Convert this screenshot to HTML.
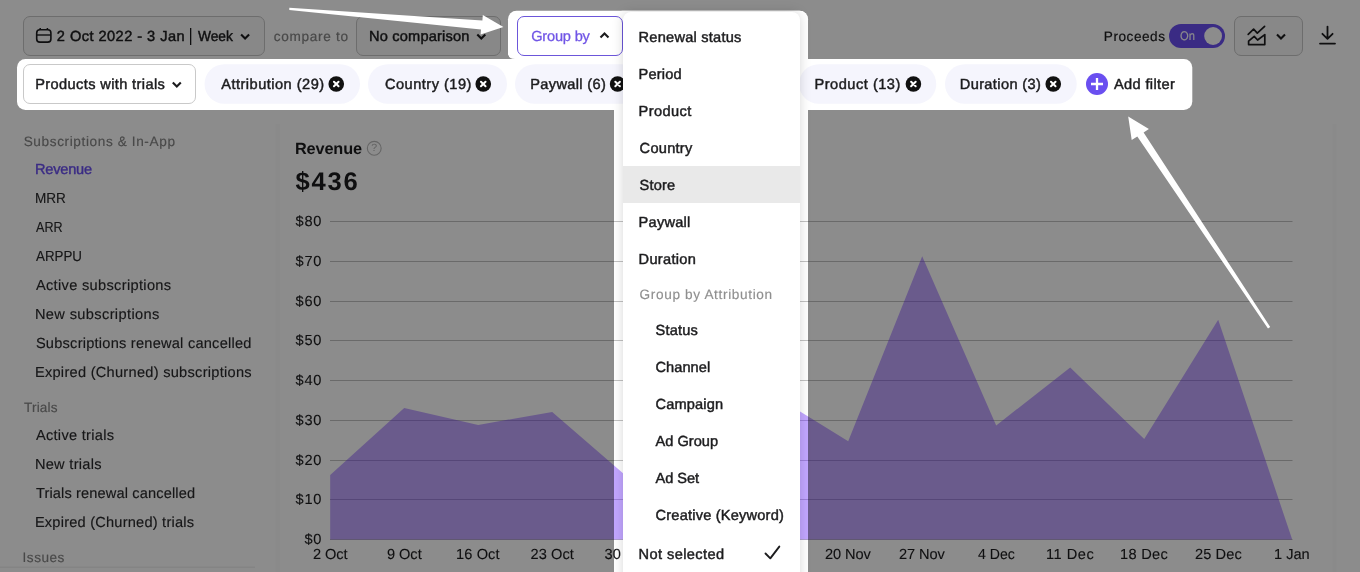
<!DOCTYPE html>
<html lang="en"><head><meta charset="utf-8"><title>Revenue chart – Group by</title>
<style>
html,body{margin:0;padding:0}
body{width:1360px;height:572px;overflow:hidden;position:relative;background:#fff;font-family:"Liberation Sans", sans-serif;text-rendering:geometricPrecision;}
.abs{position:absolute;left:0;top:0}
.layer{position:absolute;left:0;top:0;width:1360px;height:572px;overflow:hidden}
.t{position:absolute;white-space:pre;line-height:20px;transform-origin:0 50%}
.help{position:absolute;left:368px;top:141px;width:12.5px;text-align:center;font-size:10.5px;line-height:15px;color:#b0b0b0}
.dd{position:absolute;left:623px;top:12px;width:177px;height:600px;background:#fff;border-radius:8px;box-shadow:0 0 12px rgba(0,0,0,.16)}
.hl{position:absolute;left:623px;top:165.8px;width:177px;height:37px;background:#e9e9e9}
</style></head>
<body>
<div class="layer" id="page">
<svg class="abs" width="1360" height="572" viewBox="0 0 1360 572">
<!-- top buttons -->
<rect x="23.5" y="16.5" width="241" height="39" rx="6.5" fill="#f7f7f7" stroke="#c6c6c6"/>
<rect x="356.5" y="16.5" width="144" height="39" rx="6.5" fill="#f7f7f7" stroke="#c6c6c6"/>
<rect x="517.5" y="16.5" width="105" height="39" rx="6.5" fill="#fff" stroke="#6c56da"/>
<rect x="1234.5" y="16.5" width="68" height="39" rx="6.5" fill="#f7f7f7" stroke="#c6c6c6"/>
<!-- calendar icon -->
<g fill="none" stroke="#1c1c1e" stroke-width="1.6"><rect x="36.7" y="29.8" width="14.2" height="12.3" rx="3.2"/><path d="M37,35H50.6" stroke-width="1.4"/><path d="M40.2,27.9V29.6M47.4,27.9V29.6" stroke-width="1.5"/></g>
<rect x="190" y="28" width="1.3" height="17" fill="#1c1c1e"/>
<path transform="translate(245.1,36.5)" d="M-4,-2.1L0,1.9L4,-2.1" fill="none" stroke="#1c1c1e" stroke-width="2.1" stroke-linejoin="miter"/><path transform="translate(481.3,36.5)" d="M-4,-2.1L0,1.9L4,-2.1" fill="none" stroke="#1c1c1e" stroke-width="2.1" stroke-linejoin="miter"/><path transform="translate(604.5,35.4)" d="M-4,2.1L0,-1.9L4,2.1" fill="none" stroke="#1c1c1e" stroke-width="2.1" stroke-linejoin="miter"/><path transform="translate(1281,36.5)" d="M-4,-2.1L0,1.9L4,-2.1" fill="none" stroke="#1c1c1e" stroke-width="2.1" stroke-linejoin="miter"/>
<!-- toggle -->
<rect x="1169" y="24" width="56" height="24" rx="12" fill="#6a4ff0"/><circle cx="1213.1" cy="36" r="8.9" fill="#fff"/>
<!-- chart-type icon -->
<g fill="none" stroke="#1c1c1e" stroke-width="1.7" stroke-linejoin="round" stroke-linecap="round">
<path d="M1248.2,34.3L1253.6,29.2L1257.3,33.2L1264.6,26.4"/><path d="M1248.6,44.6V41.2L1254.2,36.4L1257.6,40L1264.8,34.6V44.6Z"/></g>
<!-- download icon -->
<g fill="none" stroke="#1c1c1e" stroke-width="1.8" stroke-linecap="round" stroke-linejoin="round"><path d="M1327.5,26.6V38.6M1322.4,33.8L1327.5,38.9L1332.6,33.8M1320,43.6H1335"/></g>
<!-- filter row -->
<rect x="23.5" y="64.5" width="172" height="39" rx="6.5" fill="#fff" stroke="#c9c9c9"/><path transform="translate(176.8,84.6)" d="M-4,-2.1L0,1.9L4,-2.1" fill="none" stroke="#1c1c1e" stroke-width="2.1" stroke-linejoin="miter"/>
<rect x="204.5" y="64.25" width="155.5" height="39.5" rx="19.75" fill="#f5f5fd"/><rect x="368" y="64.25" width="139" height="39.5" rx="19.75" fill="#f5f5fd"/><rect x="515" y="64.25" width="126.5" height="39.5" rx="19.75" fill="#f5f5fd"/><rect x="799" y="64.25" width="137.25" height="39.5" rx="19.75" fill="#f5f5fd"/><rect x="945" y="64.25" width="131.75" height="39.5" rx="19.75" fill="#f5f5fd"/>
<g transform="translate(336.25,84)"><circle r="7.8" fill="#111"/><path d="M-2.3,-2.3L2.3,2.3M2.3,-2.3L-2.3,2.3" stroke="#fff" stroke-width="2" stroke-linecap="round"/></g><g transform="translate(483.25,84)"><circle r="7.8" fill="#111"/><path d="M-2.3,-2.3L2.3,2.3M2.3,-2.3L-2.3,2.3" stroke="#fff" stroke-width="2" stroke-linecap="round"/></g><g transform="translate(617.6,84)"><circle r="7.8" fill="#111"/><path d="M-2.3,-2.3L2.3,2.3M2.3,-2.3L-2.3,2.3" stroke="#fff" stroke-width="2" stroke-linecap="round"/></g><g transform="translate(913.4,84)"><circle r="7.8" fill="#111"/><path d="M-2.3,-2.3L2.3,2.3M2.3,-2.3L-2.3,2.3" stroke="#fff" stroke-width="2" stroke-linecap="round"/></g><g transform="translate(1053.25,84)"><circle r="7.8" fill="#111"/><path d="M-2.3,-2.3L2.3,2.3M2.3,-2.3L-2.3,2.3" stroke="#fff" stroke-width="2" stroke-linecap="round"/></g>
<circle cx="1097" cy="84" r="11" fill="#6a4ff0"/><path d="M1091,84H1103M1097,78V90" stroke="#fff" stroke-width="2.3"/>
<!-- card -->
<rect x="275.5" y="124" width="4.5" height="470" fill="#fbfbfb"/><rect x="1332.5" y="124" width="4" height="470" fill="#fbfbfb"/>
<!-- help -->
<circle cx="374.25" cy="148.3" r="6.9" fill="none" stroke="#b9b9b9" stroke-width="1.1"/>
<!-- chart -->
<rect x="330" y="221" width="962.5" height="1" fill="#c2c2c2"/><rect x="330" y="261" width="962.5" height="1" fill="#c2c2c2"/><rect x="330" y="301" width="962.5" height="1" fill="#c2c2c2"/><rect x="330" y="340" width="962.5" height="1" fill="#c2c2c2"/><rect x="330" y="380" width="962.5" height="1" fill="#c2c2c2"/><rect x="330" y="420" width="962.5" height="1" fill="#c2c2c2"/><rect x="330" y="460" width="962.5" height="1" fill="#c2c2c2"/><rect x="330" y="499" width="962.5" height="1" fill="#c2c2c2"/><rect x="330" y="539" width="962.5" height="1" fill="#c2c2c2"/>
<path d="M330.2,539.5 L330.2,475.1 L404.2,407.9 L478.2,425.0 L552.2,411.9 L626.2,475.9 L700.2,452.1 L774.2,395.6 L848.2,441.3 L922.2,256.3 L996.2,425.4 L1070.2,367.4 L1144.2,438.9 L1218.2,319.7 L1292.2,539.5 L1292.2,539.5 Z" fill="rgba(103,32,255,0.4)"/>
<!-- bottom scrollbar hint -->
<rect x="0" y="566.5" width="255" height="1.5" fill="#f1f1f1"/>
</svg>
<span class="t" style="left:56.80px;top:27.00px;font-size:14.6px;letter-spacing:0.456px;color:#1c1c1e;-webkit-text-stroke:0.45px currentColor;">2 Oct 2022 - 3 Jan</span>
<span class="t" style="left:197.50px;top:27.00px;font-size:14.6px;letter-spacing:0.000px;color:#1c1c1e;transform:scaleX(0.9406);-webkit-text-stroke:0.45px currentColor;">Week</span>
<span class="t" style="left:273.75px;top:27.00px;font-size:13.6px;letter-spacing:0.701px;color:#858585;-webkit-text-stroke:0.2px currentColor;">compare to</span>
<span class="t" style="left:369.00px;top:27.00px;font-size:14.6px;letter-spacing:0.185px;color:#1c1c1e;-webkit-text-stroke:0.45px currentColor;">No comparison</span>
<span class="t" style="left:531.20px;top:27.00px;font-size:14.6px;letter-spacing:-0.190px;color:#7055e6;-webkit-text-stroke:0.3px currentColor;">Group by</span>
<span class="t" style="left:1103.80px;top:27.00px;font-size:13.6px;letter-spacing:0.538px;color:#1c1c1e;-webkit-text-stroke:0.2px currentColor;">Proceeds</span>
<span class="t" style="left:1180.00px;top:26.00px;font-size:12.4px;letter-spacing:0.000px;color:#fff;transform:scaleX(0.9016);-webkit-text-stroke:0.1px currentColor;">On</span>
<span class="t" style="left:35.25px;top:75.00px;font-size:14.6px;letter-spacing:0.373px;color:#1c1c1e;-webkit-text-stroke:0.45px currentColor;">Products with trials</span>
<span class="t" style="left:221.25px;top:75.00px;font-size:14.6px;letter-spacing:0.476px;color:#1c1c1e;-webkit-text-stroke:0.45px currentColor;">Attribution (29)</span>
<span class="t" style="left:385.00px;top:75.00px;font-size:14.6px;letter-spacing:0.478px;color:#1c1c1e;-webkit-text-stroke:0.45px currentColor;">Country (19)</span>
<span class="t" style="left:530.25px;top:75.00px;font-size:14.6px;letter-spacing:0.343px;color:#1c1c1e;-webkit-text-stroke:0.45px currentColor;">Paywall (6)</span>
<span class="t" style="left:814.50px;top:75.00px;font-size:14.6px;letter-spacing:0.505px;color:#1c1c1e;-webkit-text-stroke:0.45px currentColor;">Product (13)</span>
<span class="t" style="left:959.75px;top:75.00px;font-size:14.6px;letter-spacing:0.369px;color:#1c1c1e;-webkit-text-stroke:0.45px currentColor;">Duration (3)</span>
<span class="t" style="left:1114.00px;top:75.00px;font-size:14.6px;letter-spacing:0.352px;color:#1c1c1e;-webkit-text-stroke:0.45px currentColor;">Add filter</span>
<span class="t" style="left:23.70px;top:132.00px;font-size:13.6px;letter-spacing:0.618px;color:#858585;-webkit-text-stroke:0.15px currentColor;">Subscriptions &amp; In-App</span>
<span class="t" style="left:34.90px;top:160.00px;font-size:14.6px;letter-spacing:-0.200px;color:#6a4ff0;-webkit-text-stroke:0.4px currentColor;">Revenue</span>
<span class="t" style="left:34.97px;top:189.00px;font-size:14.6px;letter-spacing:0.000px;color:#2a2a2c;transform:scaleX(0.9307);-webkit-text-stroke:0.15px currentColor;">MRR</span>
<span class="t" style="left:35.90px;top:218.00px;font-size:14.6px;letter-spacing:0.000px;color:#2a2a2c;transform:scaleX(0.8622);-webkit-text-stroke:0.15px currentColor;">ARR</span>
<span class="t" style="left:35.90px;top:247.00px;font-size:14.6px;letter-spacing:0.000px;color:#2a2a2c;transform:scaleX(0.9147);-webkit-text-stroke:0.15px currentColor;">ARPPU</span>
<span class="t" style="left:35.90px;top:276.00px;font-size:14.6px;letter-spacing:0.328px;color:#2a2a2c;-webkit-text-stroke:0.15px currentColor;">Active subscriptions</span>
<span class="t" style="left:34.90px;top:305.00px;font-size:14.6px;letter-spacing:0.374px;color:#2a2a2c;-webkit-text-stroke:0.15px currentColor;">New subscriptions</span>
<span class="t" style="left:35.90px;top:334.00px;font-size:14.6px;letter-spacing:0.235px;color:#2a2a2c;-webkit-text-stroke:0.15px currentColor;">Subscriptions renewal cancelled</span>
<span class="t" style="left:34.90px;top:363.00px;font-size:14.6px;letter-spacing:0.275px;color:#2a2a2c;-webkit-text-stroke:0.15px currentColor;">Expired (Churned) subscriptions</span>
<span class="t" style="left:24.10px;top:398.00px;font-size:13.6px;letter-spacing:0.135px;color:#858585;-webkit-text-stroke:0.15px currentColor;">Trials</span>
<span class="t" style="left:35.90px;top:426.00px;font-size:14.6px;letter-spacing:0.295px;color:#2a2a2c;-webkit-text-stroke:0.15px currentColor;">Active trials</span>
<span class="t" style="left:34.90px;top:455.00px;font-size:14.6px;letter-spacing:0.287px;color:#2a2a2c;-webkit-text-stroke:0.15px currentColor;">New trials</span>
<span class="t" style="left:35.90px;top:484.00px;font-size:14.6px;letter-spacing:0.140px;color:#2a2a2c;-webkit-text-stroke:0.15px currentColor;">Trials renewal cancelled</span>
<span class="t" style="left:34.90px;top:513.00px;font-size:14.6px;letter-spacing:0.219px;color:#2a2a2c;-webkit-text-stroke:0.15px currentColor;">Expired (Churned) trials</span>
<span class="t" style="left:22.60px;top:548.00px;font-size:13.6px;letter-spacing:0.482px;color:#858585;-webkit-text-stroke:0.15px currentColor;">Issues</span>
<span class="t" style="left:294.90px;top:139.00px;font-size:16.3px;letter-spacing:-0.119px;color:#1c1c1e;font-weight:700;">Revenue</span>
<span class="t" style="left:295.50px;top:172.00px;font-size:25.6px;letter-spacing:1.766px;color:#1c1c1e;font-weight:700;">$436</span>
<span class="t" style="left:295.50px;top:212.00px;font-size:14.6px;letter-spacing:0.759px;color:#1c1c1e;-webkit-text-stroke:0.12px currentColor;">$80</span>
<span class="t" style="left:295.50px;top:252.00px;font-size:14.6px;letter-spacing:0.759px;color:#1c1c1e;-webkit-text-stroke:0.12px currentColor;">$70</span>
<span class="t" style="left:295.50px;top:292.00px;font-size:14.6px;letter-spacing:0.759px;color:#1c1c1e;-webkit-text-stroke:0.12px currentColor;">$60</span>
<span class="t" style="left:295.50px;top:331.00px;font-size:14.6px;letter-spacing:0.759px;color:#1c1c1e;-webkit-text-stroke:0.12px currentColor;">$50</span>
<span class="t" style="left:295.50px;top:371.00px;font-size:14.6px;letter-spacing:0.759px;color:#1c1c1e;-webkit-text-stroke:0.12px currentColor;">$40</span>
<span class="t" style="left:295.50px;top:411.00px;font-size:14.6px;letter-spacing:0.759px;color:#1c1c1e;-webkit-text-stroke:0.12px currentColor;">$30</span>
<span class="t" style="left:295.50px;top:451.00px;font-size:14.6px;letter-spacing:0.759px;color:#1c1c1e;-webkit-text-stroke:0.12px currentColor;">$20</span>
<span class="t" style="left:295.50px;top:490.00px;font-size:14.6px;letter-spacing:0.759px;color:#1c1c1e;-webkit-text-stroke:0.12px currentColor;">$10</span>
<span class="t" style="left:304.50px;top:530.00px;font-size:14.6px;letter-spacing:0.634px;color:#1c1c1e;-webkit-text-stroke:0.12px currentColor;">$0</span>
<span class="t" style="left:313.00px;top:545.00px;font-size:14.6px;letter-spacing:-0.080px;color:#1c1c1e;-webkit-text-stroke:0.12px currentColor;">2 Oct</span>
<span class="t" style="left:386.88px;top:545.00px;font-size:14.6px;letter-spacing:-0.017px;color:#1c1c1e;-webkit-text-stroke:0.12px currentColor;">9 Oct</span>
<span class="t" style="left:456.00px;top:545.00px;font-size:14.6px;letter-spacing:0.113px;color:#1c1c1e;-webkit-text-stroke:0.12px currentColor;">16 Oct</span>
<span class="t" style="left:530.62px;top:545.00px;font-size:14.6px;letter-spacing:0.063px;color:#1c1c1e;-webkit-text-stroke:0.12px currentColor;">23 Oct</span>
<span class="t" style="left:604.62px;top:545.00px;font-size:14.6px;letter-spacing:0.063px;color:#1c1c1e;-webkit-text-stroke:0.12px currentColor;">30 Oct</span>
<span class="t" style="left:681.75px;top:545.00px;font-size:14.6px;letter-spacing:0.000px;color:#1c1c1e;transform:scaleX(0.9530);-webkit-text-stroke:0.12px currentColor;">6 Nov</span>
<span class="t" style="left:750.10px;top:545.00px;font-size:14.6px;letter-spacing:0.071px;color:#1c1c1e;-webkit-text-stroke:0.12px currentColor;">13 Nov</span>
<span class="t" style="left:825.10px;top:545.00px;font-size:14.6px;letter-spacing:-0.129px;color:#1c1c1e;-webkit-text-stroke:0.12px currentColor;">20 Nov</span>
<span class="t" style="left:899.10px;top:545.00px;font-size:14.6px;letter-spacing:-0.129px;color:#1c1c1e;-webkit-text-stroke:0.12px currentColor;">27 Nov</span>
<span class="t" style="left:978.00px;top:545.00px;font-size:14.6px;letter-spacing:0.000px;color:#1c1c1e;transform:scaleX(0.9649);-webkit-text-stroke:0.12px currentColor;">4 Dec</span>
<span class="t" style="left:1046.10px;top:545.00px;font-size:14.6px;letter-spacing:0.488px;color:#1c1c1e;-webkit-text-stroke:0.12px currentColor;">11 Dec</span>
<span class="t" style="left:1120.10px;top:545.00px;font-size:14.6px;letter-spacing:0.271px;color:#1c1c1e;-webkit-text-stroke:0.12px currentColor;">18 Dec</span>
<span class="t" style="left:1195.10px;top:545.00px;font-size:14.6px;letter-spacing:0.071px;color:#1c1c1e;-webkit-text-stroke:0.12px currentColor;">25 Dec</span>
<span class="t" style="left:1274.00px;top:545.00px;font-size:14.6px;letter-spacing:-0.021px;color:#1c1c1e;-webkit-text-stroke:0.12px currentColor;">1 Jan</span>
<span class="help">?</span>
</div>
<div class="layer" id="dropdown">
<div class="dd"></div><div class="hl"></div>
<svg class="abs" width="1360" height="572" viewBox="0 0 1360 572">
<path d="M765.5,553.5L770.3,558.3L779.3,546.6" fill="none" stroke="#1c1c1e" stroke-width="1.9" stroke-linecap="round" stroke-linejoin="round"/></svg>
<span class="t" style="left:638.60px;top:28.00px;font-size:14.6px;letter-spacing:0.225px;color:#1c1c1e;-webkit-text-stroke:0.45px currentColor;">Renewal status</span>
<span class="t" style="left:638.60px;top:65.00px;font-size:14.6px;letter-spacing:0.166px;color:#1c1c1e;-webkit-text-stroke:0.45px currentColor;">Period</span>
<span class="t" style="left:638.60px;top:102.00px;font-size:14.6px;letter-spacing:0.402px;color:#1c1c1e;-webkit-text-stroke:0.45px currentColor;">Product</span>
<span class="t" style="left:639.60px;top:139.00px;font-size:14.6px;letter-spacing:0.266px;color:#1c1c1e;-webkit-text-stroke:0.45px currentColor;">Country</span>
<span class="t" style="left:639.60px;top:176.00px;font-size:14.6px;letter-spacing:0.159px;color:#1c1c1e;-webkit-text-stroke:0.45px currentColor;">Store</span>
<span class="t" style="left:638.60px;top:213.00px;font-size:14.6px;letter-spacing:0.226px;color:#1c1c1e;-webkit-text-stroke:0.45px currentColor;">Paywall</span>
<span class="t" style="left:638.60px;top:250.00px;font-size:14.6px;letter-spacing:0.294px;color:#1c1c1e;-webkit-text-stroke:0.45px currentColor;">Duration</span>
<span class="t" style="left:639.60px;top:285.00px;font-size:13.6px;letter-spacing:0.651px;color:#8f8f8f;-webkit-text-stroke:0.15px currentColor;">Group by Attribution</span>
<span class="t" style="left:655.50px;top:321.00px;font-size:14.6px;letter-spacing:0.205px;color:#1c1c1e;-webkit-text-stroke:0.45px currentColor;">Status</span>
<span class="t" style="left:655.50px;top:358.00px;font-size:14.6px;letter-spacing:0.047px;color:#1c1c1e;-webkit-text-stroke:0.45px currentColor;">Channel</span>
<span class="t" style="left:655.50px;top:395.00px;font-size:14.6px;letter-spacing:0.157px;color:#1c1c1e;-webkit-text-stroke:0.45px currentColor;">Campaign</span>
<span class="t" style="left:655.50px;top:432.00px;font-size:14.6px;letter-spacing:0.022px;color:#1c1c1e;-webkit-text-stroke:0.45px currentColor;">Ad Group</span>
<span class="t" style="left:655.50px;top:469.00px;font-size:14.6px;letter-spacing:-0.051px;color:#1c1c1e;-webkit-text-stroke:0.45px currentColor;">Ad Set</span>
<span class="t" style="left:655.50px;top:506.00px;font-size:14.6px;letter-spacing:0.204px;color:#1c1c1e;-webkit-text-stroke:0.45px currentColor;">Creative (Keyword)</span>
<span class="t" style="left:638.60px;top:545.00px;font-size:14.6px;letter-spacing:0.400px;color:#1c1c1e;-webkit-text-stroke:0.45px currentColor;">Not selected</span>
</div>
<div class="layer" id="tour">
<svg class="abs" width="1360" height="572" viewBox="0 0 1360 572">
<defs><mask id="m" maskUnits="userSpaceOnUse" x="0" y="0" width="1360" height="572"><rect width="1360" height="572" fill="#fff"/>
<rect x="508" y="10.7" width="300" height="60" rx="8.5" fill="#000"/>
<rect x="17" y="59" width="1175.3" height="51" rx="8.5" fill="#000"/>
<rect x="614" y="10.7" width="194" height="600" rx="8.5" fill="#000"/>
<path d="M507.5,59V52Q508,59 515,59Z" fill="#fff"/></mask></defs>
<rect width="1360" height="572" fill="rgba(0,0,0,0.45)" mask="url(#m)"/>
<!-- arrows -->
<path d="M289.3,7.8L289.3,10.1L481,29.5L480.6,34.4L503.4,26.9L482.8,14.9L482.4,20.6Z" fill="#fff"/>
<path d="M1268,328.6L1270.2,327L1143.6,132.4L1148.9,129.1L1128.2,116.5L1131.7,139.9L1137.3,136.6Z" fill="#fff"/>
</svg>
</div>
</body></html>
